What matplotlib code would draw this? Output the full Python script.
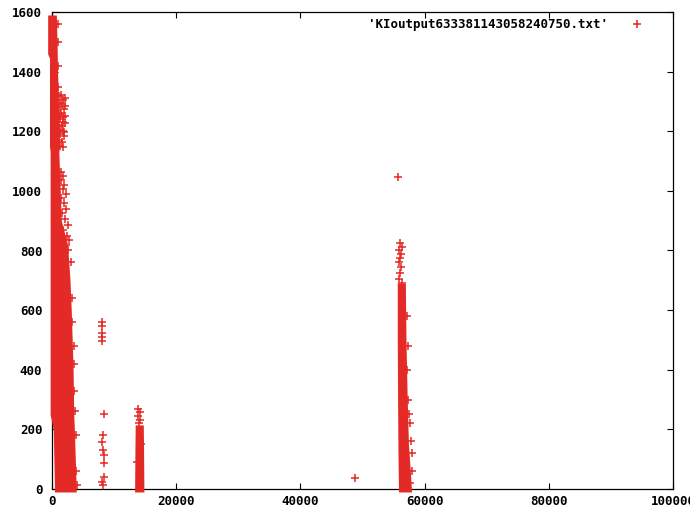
import matplotlib.pyplot as plt

# dense cores: envelope of the overlapping points (y level, left x, right x)
main_y = [1590, 1460, 1445, 1150, 1130, 900, 820, 700, 600, 400, 250, 200, 0, -10]
main_xl = [-700, -700, -400, -400, -300, -300, -300, -300, -300, -300, -300, 200, 400, 400]
main_xr = [700, 850, 850, 1200, 1100, 1500, 2500, 2900, 3100, 3400, 3500, 3600, 3900, 3900]

c14_y = [-10, 120, 215]
c14_xl = [13300, 13350, 13400]
c14_xr = [14800, 14750, 14700]

c56_y = [-10, 60, 150, 300, 500, 690]
c56_xl = [55800, 55750, 55700, 55650, 55600, 55600]
c56_xr = [57900, 57700, 57400, 57200, 57000, 56900]

# loose points around the cores
pts_x = [1500, 1800, 1600, 1900, 1500, 1700, 1850, 1550, 1750, 1900, 1600, 1800,
         1200, 1250, 1200, 1300, 1250, 1200, 1300, 1250, 1200, 1300,
         2100, 2050, 2150, 2100, 2000,
         1500, 1800, 1400, 2000, 1700, 2200, 1500, 1900, 2300, 1600, 2100, 2600,
         1800, 2400, 2800, 2200, 2500,
         3000, 3300, 3500, 3600, 3800, 3900, 4000, 1200, 2500, 3300, 3600, 3700,
         900, 1000, 900, 1000, 950,
         8000, 8050, 8000, 8100, 8000, 8300, 8200, 8100, 8200, 8400, 8300, 8300, 8100, 8200,
         13900, 14100, 13800, 14200, 14000, 14300, 13700,
         48800,
         55700, 56000, 56300, 55900, 56200, 56100, 55950, 56250, 56050, 55800, 56350,
         57200, 57400, 57600, 57900, 58000, 57700, 57300, 57500, 57100, 57800]
pts_y = [1322, 1305, 1290, 1275, 1262, 1248, 1232, 1218, 1200, 1185, 1165, 1148,
         1318, 1296, 1280, 1258, 1240, 1222, 1205, 1190, 1170, 1152,
         1312, 1284, 1252, 1226, 1196,
         1062, 1050, 1035, 1020, 1005, 990, 975, 960, 940, 925, 905, 885,
         870, 850, 835, 820, 800,
         760, 640, 480, 330, 180, 60, 15, 5, 8, 560, 420, 260,
         1560, 1500, 1420, 1350, 1290,
         560, 548, 523, 510, 497, 252, 181, 158, 131, 114, 87, 40, 23, 13,
         270, 258, 245, 232, 222, 150, 90,
         37,
         1045, 825, 812, 800, 788, 775, 760, 745, 725, 705, 690,
         400, 300, 220, 120, 60, 20, 480, 250, 580, 160]

red = '#e42a26'
font = dict(family='DejaVu Sans Mono', weight='bold', size=9)

fig = plt.figure(figsize=(6.9, 5.11), dpi=100)
ax = fig.add_axes([52 / 690, 22 / 511, 621 / 690, 477 / 511])

for ys, xl, xr in [(main_y, main_xl, main_xr), (c14_y, c14_xl, c14_xr), (c56_y, c56_xl, c56_xr)]:
    ax.fill_betweenx(ys, xl, xr, color=red, lw=0, zorder=3, clip_on=False)

ax.plot(pts_x, pts_y, '+', color=red, ms=6, mew=1.1, zorder=4, clip_on=False,
        label="'KIoutput633381143058240750.txt'")

ax.set_xlim(0, 100000)
ax.set_ylim(0, 1600)
ax.set_xticks([0, 20000, 40000, 60000, 80000, 100000])
ax.set_yticks(range(0, 1601, 200))
ax.tick_params(direction='in', length=4, width=0.8, top=True, right=True, color='black')
ax.tick_params(axis='y', pad=7)
ax.tick_params(axis='x', pad=4)
for lab in ax.get_xticklabels() + ax.get_yticklabels():
    lab.set_fontfamily(font['family'])
    lab.set_fontweight(font['weight'])
    lab.set_fontsize(font['size'])
for s in ax.spines.values():
    s.set_linewidth(0.9)

leg = ax.legend(loc='upper right', bbox_to_anchor=(0.962, 0.998), frameon=False,
                markerfirst=False, handlelength=1.2, handletextpad=1.7,
                borderaxespad=0, prop=font)

fig.savefig('out.png', dpi=100)
